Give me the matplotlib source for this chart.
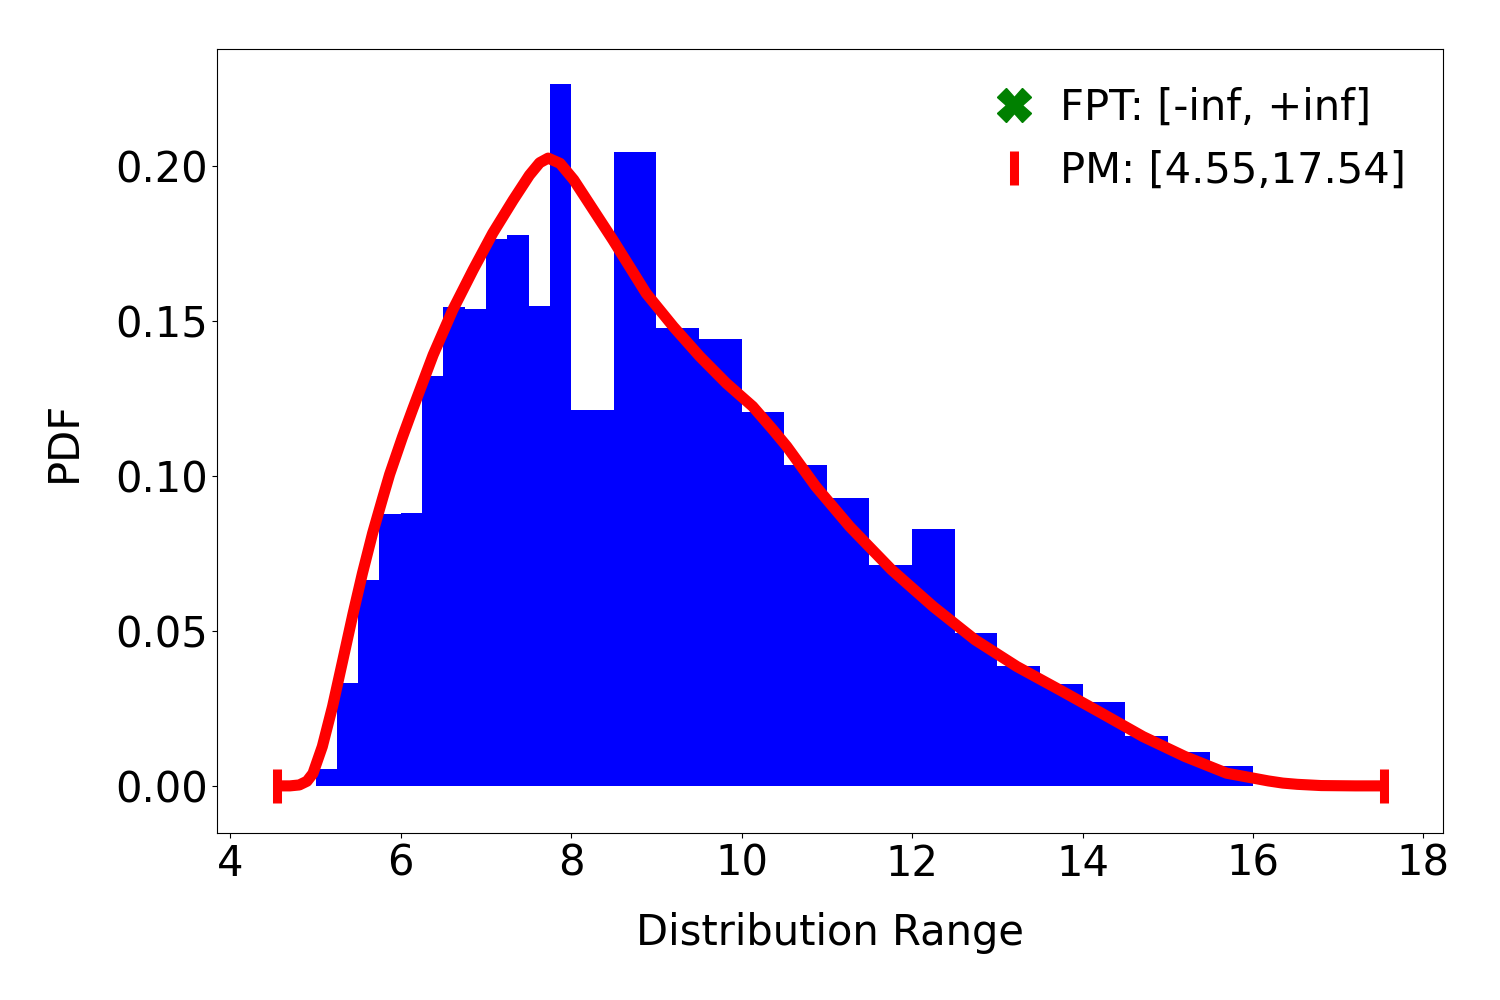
import matplotlib
matplotlib.use("Agg")
import matplotlib.pyplot as plt
import numpy as np

# histogram: 0.25-wide bins from 5 to 8, then 0.5-wide bins from 8 to 16
fine_edges = [5.0, 5.25, 5.5, 5.75, 6.0, 6.25, 6.5, 6.75, 7.0, 7.25, 7.5, 7.75]
coarse_edges = [8.0, 8.5, 9.0, 9.5, 10.0, 10.5, 11.0, 11.5, 12.0, 12.5,
                13.0, 13.5, 14.0, 14.5, 15.0, 15.5, 16.0]
fine_heights = [0.0056, 0.0331, 0.0663, 0.0876, 0.0879, 0.1321,
                0.1545, 0.1537, 0.1765, 0.1777, 0.1548, 0.2265]
coarse_heights = [0.1214, 0.2045, 0.1477, 0.1443, 0.1206, 0.1035, 0.0929, 0.0713,
                  0.0829, 0.0494, 0.0387, 0.0329, 0.0271, 0.0161, 0.0110, 0.0065]

# density curve
curve_x = [4.55, 4.70, 4.81, 4.90, 4.97, 5.08, 5.20, 5.32, 5.44, 5.55, 5.67, 5.79,
           5.87, 6.02, 6.14, 6.38, 6.61, 6.85, 7.08, 7.32, 7.51, 7.63, 7.73, 7.87,
           8.03, 8.26, 8.49, 8.88, 9.20, 9.51, 9.82, 10.13, 10.37, 10.53, 10.87,
           11.27, 11.76, 12.25, 12.74, 13.23, 13.73, 14.22, 14.71, 15.20, 15.69,
           16.18, 16.35, 16.52, 16.80, 17.20, 17.54]
curve_y = [0.0000, 0.0000, 0.0003, 0.0015, 0.0040, 0.0127, 0.0256, 0.0405, 0.0555,
           0.0685, 0.0815, 0.0930, 0.1005, 0.1125, 0.1215, 0.1390, 0.1535, 0.1665,
           0.1783, 0.1890, 0.1970, 0.2010, 0.2025, 0.2008, 0.1955, 0.1858, 0.1761,
           0.1589, 0.1481, 0.1385, 0.1299, 0.1224, 0.1148, 0.1095, 0.0966, 0.0836,
           0.0697, 0.0578, 0.0471, 0.0385, 0.0310, 0.0235, 0.0159, 0.0095, 0.0041,
           0.0016, 0.0009, 0.0005, 0.0001, 0.0000, 0.0000]

pm_bounds = [4.55, 17.54]
fpt_label = "FPT: [-inf, +inf]"
pm_label = "PM: [4.55,17.54]"

FS = 30

fig, ax = plt.subplots(figsize=(15, 10), dpi=100)
fig.subplots_adjust(left=0.145, right=0.962, top=0.951, bottom=0.167)

edges = fine_edges + coarse_edges
heights = fine_heights + coarse_heights
ax.bar(edges[:-1], heights, width=np.diff(edges), align="edge", color="blue", linewidth=0)

ax.plot(curve_x, curve_y, color="red", lw=8, solid_capstyle="butt",
        solid_joinstyle="round", zorder=3)

# FPT bounds are infinite, so nothing lands on the axes; keep the legend entry
ax.plot([np.nan], [np.nan], "X", color="green", ms=24, ls="none", label=fpt_label)
ax.plot(pm_bounds, [0, 0], "|", color="red", ms=24, mew=6.5, ls="none",
        label=pm_label, zorder=4)

ax.set_xlim(3.85, 18.23)
ax.set_ylim(-0.0152, 0.2377)
ax.set_xticks([4, 6, 8, 10, 12, 14, 16, 18])
ax.set_yticks([0.00, 0.05, 0.10, 0.15, 0.20])
ax.tick_params(labelsize=FS)
ax.set_xlabel("Distribution Range", fontsize=FS, labelpad=20)
ax.set_ylabel("PDF", fontsize=FS, labelpad=22)

ax.legend(loc="upper right", fontsize=FS, frameon=False,
          handlelength=1.2, handletextpad=0.5)

fig.savefig("out.png")
